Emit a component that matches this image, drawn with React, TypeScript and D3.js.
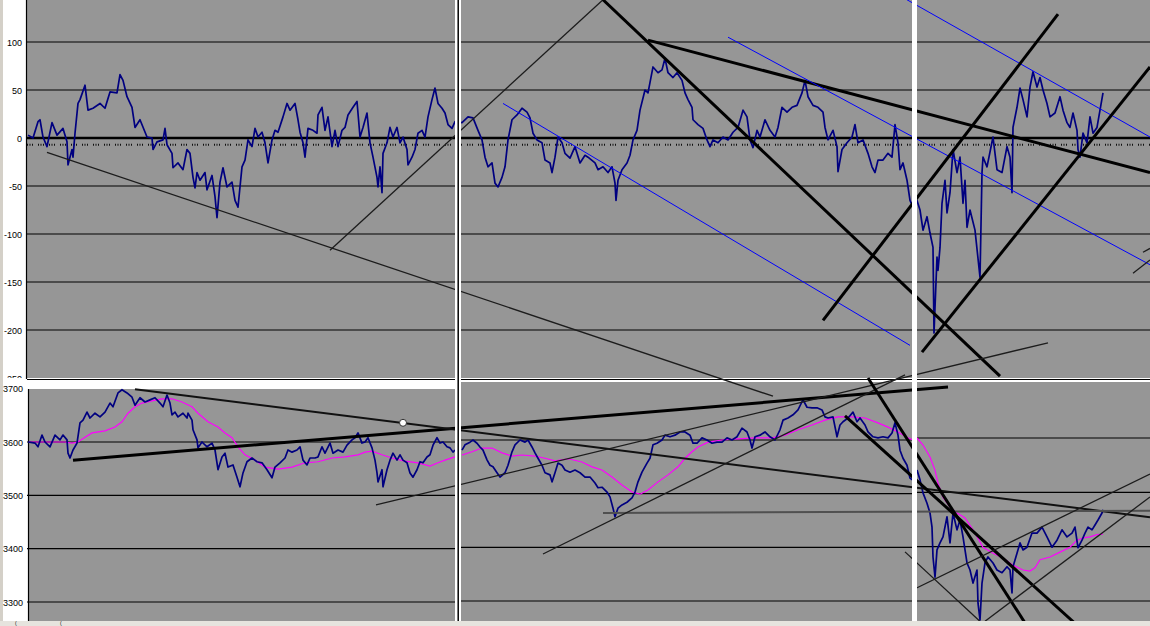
import React from 'react';
import * as d3 from 'd3';

const W = 1150;
const H = 626;

const topTicks = [100, 50, 0, -50, -100, -150, -200, -250];
const bottomTicks = [3700, 3600, 3500, 3400, 3300];
const bottomGridTicks = [3600, 3500, 3400, 3300];

// oscillator (upper pane): [bar, value]
const oscillator: [number, number][] = [
  [28,3],[33,0],[38,17],[40,19],[43,1],[47,-9],[52,16],[57,3],[63,10],[67,-4],[68,-28],[72,-12],[73,-20],[75,5],[78,36],[80,40],[85,55],[88,29],[93,31],[100,36],[105,31],[110,48],[117,47],[120,66],[123,60],[127,43],[132,32],[135,11],[140,19],[147,1],[152,0],[153,-12],[157,-4],[163,-2],[165,10],[167,-7],[172,-16],[173,-31],[178,-26],[183,-33],[187,-12],[190,-16],[193,-41],[195,-52],[197,-36],[200,-44],[205,-36],[207,-54],[212,-39],[215,-61],[217,-83],[220,-46],[223,-31],[227,-51],[232,-46],[235,-65],[238,-72],[240,-51],[242,-30],[245,-23],[248,-2],[252,-9],[255,10],[258,1],[262,6],[265,-5],[268,-26],[272,-2],[275,8],[278,6],[283,22],[287,36],[290,29],[295,36],[298,19],[300,6],[303,-5],[305,-20],[308,10],[313,8],[317,5],[318,24],[322,32],[325,8],[328,22],[332,-9],[335,8],[338,-9],[342,8],[345,11],[348,24],[353,32],[357,38],[360,1],[363,11],[367,26],[370,-5],[373,-20],[377,-41],[378,-51],[380,-30],[382,-57],[383,-16],[387,-5],[390,11],[393,1],[397,11],[400,-5],[403,1],[407,-12],[408,-28],[412,-20],[415,-12],[418,5],[422,8],[425,1],[428,22],[432,40],[435,52],[438,36],[442,31],[445,26],[448,14],[452,10],[455,17],
  [462,16],[468,22],[473,21],[478,8],[482,-2],[485,-20],[488,-30],[492,-26],[495,-47],[498,-51],[502,-41],[505,-30],[508,-2],[512,19],[517,24],[522,31],[527,27],[530,21],[533,5],[537,-2],[542,-5],[545,-23],[550,-26],[552,-36],[555,-20],[558,1],[562,-5],[565,-16],[570,-21],[575,-9],[580,-26],[585,-18],[588,-20],[595,-26],[598,-33],[603,-30],[608,-36],[612,-30],[615,-47],[616,-65],[618,-44],[622,-33],[627,-26],[630,-18],[633,-2],[637,8],[640,29],[645,50],[648,47],[653,74],[658,68],[662,71],[665,83],[668,68],[673,63],[677,68],[682,60],[685,47],[688,40],[692,32],[693,19],[698,14],[703,10],[707,-2],[710,-9],[713,-2],[718,-5],[723,1],[728,-2],[733,6],[738,11],[743,29],[747,22],[750,-2],[753,-10],[757,8],[760,1],[765,19],[770,8],[775,1],[778,11],[782,32],[787,27],[792,32],[797,34],[802,47],[805,60],[808,43],[813,34],[818,32],[823,27],[825,11],[828,-2],[833,8],[837,-9],[838,-35],[842,-12],[847,-5],[852,1],[855,14],[858,-5],[863,-2],[868,-16],[872,-30],[875,-36],[878,-23],[883,-23],[888,-16],[892,-20],[895,14],[898,-5],[900,-33],[903,-26],[907,-44],[910,-65],[913,-72],
  [917,-65],[920,-75],[923,-96],[927,-82],[930,-99],[933,-114],[934,-203],[937,-124],[938,-138],[940,-114],[942,-68],[945,-44],[947,-78],[950,-57],[953,-12],[957,-36],[960,-20],[963,-68],[965,-44],[967,-93],[970,-75],[975,-96],[980,-145],[982,-36],[983,-20],[987,-30],[993,1],[997,-33],[1002,-36],[1007,-9],[1010,-20],[1012,-57],[1013,11],[1017,32],[1020,52],[1023,40],[1027,22],[1030,53],[1033,69],[1037,53],[1040,63],[1043,50],[1047,36],[1050,22],[1055,26],[1060,43],[1063,29],[1067,16],[1070,11],[1073,26],[1077,8],[1078,-12],[1080,-20],[1083,5],[1087,-5],[1090,22],[1093,5],[1097,11],[1100,29],[1103,47],
];

// price (lower pane), one array per stitched segment
const priceS1: [number, number][] = [
  [28,3600],[35,3598],[38,3591],[42,3613],[45,3600],[50,3591],[55,3613],[60,3604],[63,3613],[67,3604],[68,3579],[70,3570],[73,3585],[77,3598],[80,3636],[83,3641],[87,3656],[90,3645],[95,3654],[100,3647],[105,3656],[110,3673],[113,3666],[118,3692],[122,3698],[127,3692],[132,3684],[135,3669],[140,3683],[145,3675],[150,3679],[155,3683],[160,3673],[163,3666],[167,3688],[170,3673],[172,3651],[175,3656],[178,3647],[183,3654],[187,3645],[188,3654],[192,3641],[193,3623],[197,3604],[198,3589],[202,3600],[207,3591],[212,3598],[215,3585],[218,3548],[222,3572],[225,3579],[228,3553],[233,3557],[237,3534],[240,3516],[243,3542],[247,3563],[252,3570],[257,3563],[262,3561],[267,3548],[272,3533],[275,3553],[280,3561],[285,3570],[288,3585],[292,3581],[297,3585],[300,3591],[303,3566],[307,3557],[310,3570],[315,3570],[318,3572],[322,3591],[325,3579],[330,3598],[333,3579],[338,3585],[343,3581],[347,3594],[352,3604],[355,3608],[358,3617],[362,3598],[365,3600],[368,3608],[372,3589],[375,3566],[377,3542],[378,3525],[382,3548],[383,3516],[387,3548],[390,3566],[393,3579],[397,3566],[400,3576],[403,3566],[407,3561],[410,3542],[413,3534],[417,3548],[420,3563],[423,3561],[427,3572],[430,3576],[433,3594],[437,3608],[440,3598],[443,3600],[447,3591],[450,3589],[453,3581],[455,3585],
];
const priceS2: [number, number][] = [
  [462,3581],[465,3591],[470,3596],[473,3600],[477,3594],[480,3587],[483,3581],[487,3563],[490,3553],[493,3550],[497,3539],[500,3531],[505,3539],[508,3553],[512,3578],[515,3591],[520,3600],[525,3596],[528,3600],[532,3587],[535,3576],[538,3566],[542,3553],[545,3539],[550,3535],[552,3522],[555,3539],[558,3557],[562,3553],[565,3544],[570,3540],[575,3544],[580,3539],[585,3531],[590,3531],[595,3520],[598,3511],[602,3512],[607,3503],[610,3494],[613,3473],[615,3457],[618,3473],[622,3479],[627,3484],[632,3492],[635,3503],[638,3522],[642,3540],[647,3557],[650,3566],[653,3591],[657,3594],[662,3600],[665,3609],[670,3606],[675,3609],[680,3615],[685,3615],[690,3609],[693,3594],[697,3594],[702,3604],[707,3600],[712,3594],[717,3596],[722,3596],[727,3604],[732,3600],[737,3606],[742,3622],[747,3615],[750,3600],[752,3585],[755,3606],[760,3609],[765,3615],[770,3606],[775,3600],[780,3619],[783,3637],[788,3641],[793,3647],[798,3656],[803,3675],[807,3661],[812,3660],[817,3660],[822,3656],[825,3643],[828,3641],[833,3643],[837,3606],[840,3628],[843,3634],[848,3641],[853,3652],[857,3634],[860,3641],[865,3628],[868,3615],[873,3606],[878,3604],[883,3606],[888,3604],[892,3613],[895,3632],[898,3609],[900,3581],[903,3566],[907,3553],[910,3529],[913,3525],
];
const priceS3: [number, number][] = [
  [917,3541],[920,3523],[923,3499],[927,3480],[930,3462],[932,3436],[933,3381],[935,3344],[937,3394],[940,3407],[943,3418],[947,3455],[950,3407],[953,3462],[957,3431],[960,3449],[963,3418],[967,3370],[970,3357],[973,3333],[977,3357],[978,3296],[980,3265],[982,3333],[985,3370],[988,3381],[993,3370],[997,3357],[1002,3352],[1007,3363],[1010,3357],[1012,3315],[1013,3363],[1017,3388],[1020,3407],[1023,3394],[1027,3399],[1032,3425],[1037,3425],[1042,3436],[1047,3418],[1052,3399],[1057,3412],[1062,3431],[1067,3418],[1072,3425],[1075,3436],[1078,3398],[1082,3412],[1085,3425],[1088,3436],[1092,3431],[1095,3440],[1098,3449],[1102,3462],[1103,3468],
];

// moving average (lower pane)
const avgS1: [number, number][] = [
  [29,3600],[65,3600],[72,3598],[78,3600],[85,3609],[92,3617],[105,3621],[115,3628],[122,3638],[128,3654],[135,3666],[142,3673],[152,3677],[162,3681],[172,3681],[182,3675],[192,3666],[198,3654],[208,3638],[218,3628],[225,3617],[232,3608],[238,3591],[245,3576],[255,3566],[265,3553],[278,3549],[292,3553],[305,3561],[318,3563],[332,3570],[345,3572],[358,3576],[365,3581],[372,3583],[382,3576],[392,3570],[405,3564],[418,3561],[430,3555],[438,3561],[445,3566],[455,3572],
];
const avgS2: [number, number][] = [
  [462,3572],[472,3578],[482,3585],[492,3585],[502,3576],[512,3570],[522,3572],[535,3570],[545,3566],[555,3561],[568,3565],[582,3559],[592,3550],[602,3544],[612,3531],[622,3516],[632,3503],[640,3499],[648,3507],[658,3522],[668,3535],[678,3550],[685,3566],[692,3578],[698,3587],[708,3596],[722,3600],[738,3602],[755,3604],[772,3604],[785,3609],[798,3619],[812,3628],[825,3637],[838,3643],[852,3643],[865,3641],[878,3632],[888,3624],[898,3615],[908,3604],[913,3600],
];
const avgS3: [number, number][] = [
  [917,3600],[923,3587],[930,3565],[935,3541],[938,3517],[943,3491],[950,3473],[957,3462],[965,3453],[973,3431],[983,3399],[993,3388],[1003,3379],[1013,3366],[1023,3357],[1030,3355],[1035,3361],[1040,3376],[1050,3381],[1060,3390],[1070,3399],[1077,3412],[1083,3416],[1090,3418],[1097,3422],[1103,3423],
];

// drawn trend lines: [bar1, value1, bar2, value2, kind]
const upperTrendLines: [number, number, number, number, string][] = [
  [47, -15, 773, -269, 'thin'],
  [330, -117, 603, 144, 'thin'],
  [603, 144, 1000, -248, 'thick'],
  [648, 102, 1150, -36, 'thick'],
  [503, 36, 910, -216, 'blue'],
  [728, 105, 1150, -132, 'blue'],
  [907, 144, 1150, 1, 'blue'],
  [823, -190, 1058, 129, 'thick'],
  [922, -223, 1150, 74, 'thick'],
  [1133, -141, 1150, -127, 'thin'],
  [1143, -119, 1150, -115, 'thin'],
];
const lowerTrendLines: [number, number, number, number, string][] = [
  [73, 3566, 948, 3703, 'thick'],
  [135, 3699, 1150, 3459, 'medium'],
  [603, 3467, 1150, 3471, 'grey'],
  [376, 3482, 1048, 3786, 'thin'],
  [543, 3390, 905, 3726, 'thin'],
  [868, 3720, 1027, 3255, 'thick'],
  [845, 3649, 1078, 3255, 'thick'],
  [905, 3394, 985, 3255, 'thin'],
  [913, 3323, 1150, 3540, 'thin'],
  [985, 3264, 1150, 3497, 'thin'],
];
const markerPoint: [number, number] = [403, 3636];

const lineStyle: Record<string, { stroke: string; width: number }> = {
  thick: { stroke: '#000000', width: 3 },
  thin: { stroke: '#1c1c1c', width: 1.3 },
  medium: { stroke: '#111111', width: 2 },
  blue: { stroke: '#0000ff', width: 1 },
  grey: { stroke: '#505050', width: 2 },
};

export default function App() {
  const x = d3.scaleLinear().domain([0, 1150]).range([0, W]);
  const yTop = d3.scaleLinear().domain([-250, 100]).range([378, 42]);
  const yBot = [
    d3.scaleLinear().domain([3300, 3600]).range([602, 442]),
    d3.scaleLinear().domain([3300, 3600]).range([601, 440]),
    d3.scaleLinear().domain([3300, 3600]).range([601, 438]),
  ];
  const sections = [
    { x0: 27, x1: 456 },
    { x0: 461, x1: 912 },
    { x0: 917, x1: W },
  ];
  const lineTop = d3.line<[number, number]>().x((d) => x(d[0])).y((d) => yTop(d[1]));
  const lineBot = (s: number) =>
    d3.line<[number, number]>().x((d) => x(d[0])).y((d) => yBot[s](d[1]));
  const prices = [priceS1, priceS2, priceS3];
  const avgs = [avgS1, avgS2, avgS3];
  const font = 'Arial, "Liberation Sans", sans-serif';

  return (
    <svg width={W} height={H} style={{ position: 'fixed', left: 0, top: 0, display: 'block' }}>
      <defs>
        <clipPath id="topLabels">
          <rect x={0} y={0} width={27} height={378} />
        </clipPath>
      </defs>
      <rect x={0} y={0} width={W} height={H} fill="#ffffff" />
      <rect x={0} y={0} width={3} height={H} fill="#d4d0c8" />
      {/* panes */}
      <rect x={27} y={0} width={W - 27} height={378} fill="#969696" />
      <rect x={29} y={389} width={456 - 29} height={232} fill="#969696" />
      <rect x={456} y={382} width={W - 456} height={239} fill="#969696" />

      {/* upper grid */}
      {topTicks.filter((t) => t !== 0 && t !== -250).map((t) => (
        <line key={'tg' + t} x1={27} x2={W} y1={yTop(t)} y2={yTop(t)} stroke="#000" strokeWidth={1.2} />
      ))}
      <line x1={27} x2={W} y1={yTop(0)} y2={yTop(0)} stroke="#000" strokeWidth={2.4} />
      <line x1={27} x2={W} y1={yTop(-7)} y2={yTop(-7)} stroke="#111" strokeWidth={2}
        strokeDasharray="1 1.5 1 1.5 1 5" />
      {/* lower grid */}
      {sections.map((s, i) =>
        bottomGridTicks.map((t) => (
          <line key={'bg' + i + t} x1={s.x0} x2={s.x1} y1={yBot[i](t)} y2={yBot[i](t)} stroke="#000" strokeWidth={1.2} />
        ))
      )}
      {/* axes and pane borders */}
      <line x1={26.5} x2={26.5} y1={0} y2={379} stroke="#000" strokeWidth={1.2} />
      <line x1={28.5} x2={28.5} y1={389} y2={621} stroke="#000" strokeWidth={1.2} />
      <line x1={27} x2={W} y1={379.5} y2={379.5} stroke="#000" strokeWidth={1.2} />

      {/* series */}
      <path d={lineTop(oscillator) || ''} fill="none" stroke="#000080" strokeWidth={1.7} strokeLinejoin="round" />
      {avgs.map((a, i) => (
        <path key={'ma' + i} d={lineBot(i)(a) || ''} fill="none" stroke="#ff00ff" strokeWidth={1.2} />
      ))}
      {prices.map((p, i) => (
        <path key={'px' + i} d={lineBot(i)(p) || ''} fill="none" stroke="#000080" strokeWidth={1.7} strokeLinejoin="round" />
      ))}

      {/* trend lines */}
      {upperTrendLines.map((l, i) => (
        <line key={'ut' + i} x1={x(l[0])} y1={yTop(l[1])} x2={x(l[2])} y2={yTop(l[3])}
          stroke={lineStyle[l[4]].stroke} strokeWidth={lineStyle[l[4]].width} />
      ))}
      {lowerTrendLines.map((l, i) => (
        <line key={'lt' + i} x1={x(l[0])} y1={yBot[0](l[1])} x2={x(l[2])} y2={yBot[0](l[3])}
          stroke={lineStyle[l[4]].stroke} strokeWidth={lineStyle[l[4]].width} />
      ))}
      <circle cx={x(markerPoint[0])} cy={yBot[0](markerPoint[1])} r={3.5} fill="#ffffff" stroke="#333" strokeWidth={1} />

      {/* stitched separators */}
      <rect x={455} y={0} width={6} height={H} fill="#ffffff" />
      <line x1={458.2} x2={458.2} y1={0} y2={H} stroke="#000" strokeWidth={1.5} />
      <rect x={912} y={0} width={5} height={H} fill="#ffffff" />

      {/* bottom strip */}
      <rect x={0} y={621} width={W} height={5} fill="#e6e4de" />
      <text x={15} y={625} fontSize={5} fontFamily={font} fill="#000">(</text>
      <text x={60} y={625} fontSize={5} fontFamily={font} fill="#000">(</text>

      {/* labels */}
      <g clipPath="url(#topLabels)">
        {topTicks.map((t) => (
          <text key={'tl' + t} x={22} y={yTop(t) + 3.5} textAnchor="end" fontSize={9} fontFamily={font} fill="#000">
            {t}
          </text>
        ))}
      </g>
      {bottomTicks.map((t) => (
        <text key={'bl' + t} x={23} y={yBot[0](t) + 3.5} textAnchor="end" fontSize={9} fontFamily={font} fill="#000">
          {t}
        </text>
      ))}
    </svg>
  );
}
